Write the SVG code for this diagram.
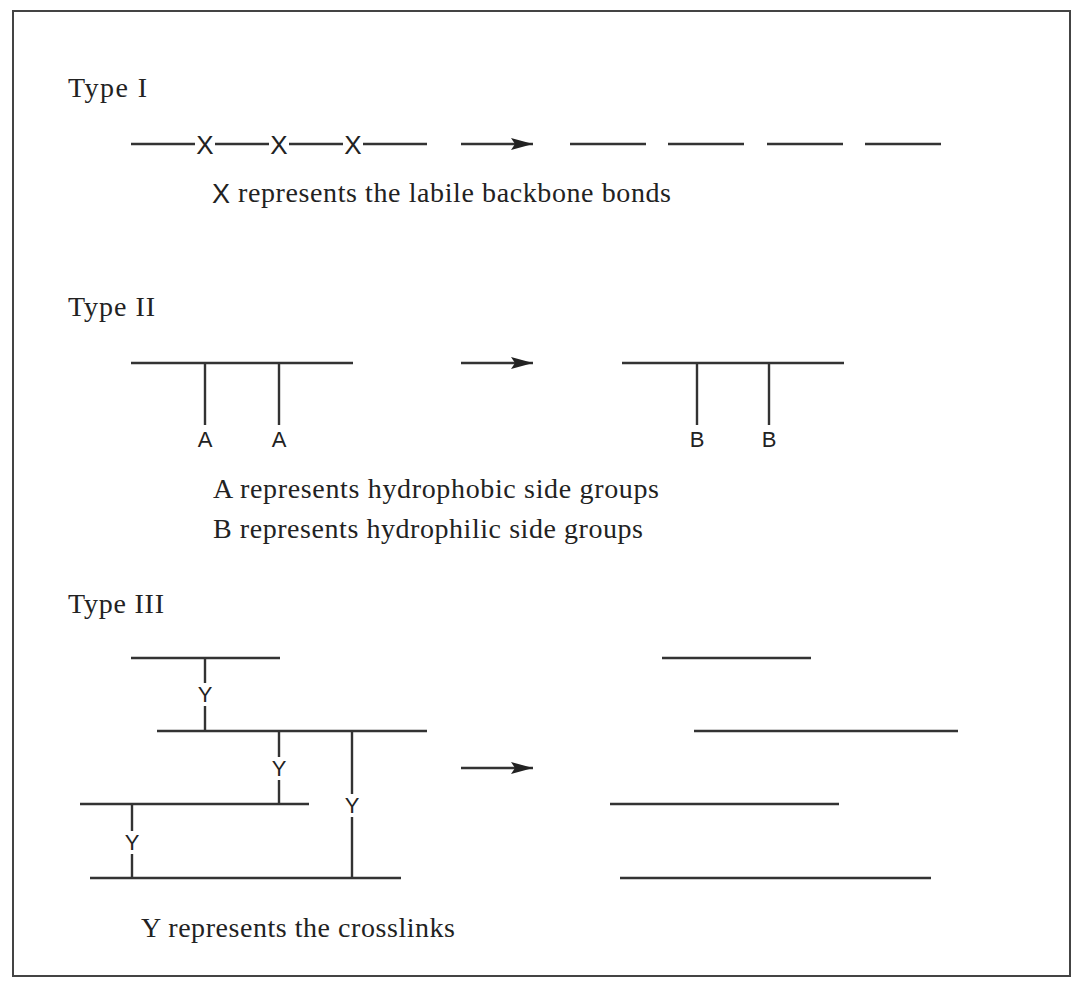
<svg xmlns="http://www.w3.org/2000/svg" width="1080" height="989" viewBox="0 0 1080 989">
<style>
.l{stroke:#333;stroke-width:2.4;fill:none}
.t{font-family:"Liberation Serif",serif;font-size:28px;fill:#222}
.s{font-family:"Liberation Sans",sans-serif;font-size:22px;fill:#222;text-anchor:middle}
.x{font-family:"Liberation Sans",sans-serif;font-size:26px;fill:#222;text-anchor:middle}
.s2{font-family:"Liberation Sans",sans-serif;font-size:27px;fill:#222}
</style>
<defs><marker id="ah" markerWidth="22" markerHeight="12" refX="22" refY="6" orient="auto" markerUnits="userSpaceOnUse"><path d="M0,0L22,6L0,12L4,6Z" fill="#222"/></marker></defs>
<rect x="13" y="11" width="1057" height="965" fill="#fff" stroke="#444" stroke-width="2"/>
<g id="typeI">
<text class="t" x="68" y="97" textLength="79">Type I</text>
<path class="l" d="M131,144H195M215,144H269M289,144H343M363,144H427"/>
<text class="x" x="205" y="154">X</text><text class="x" x="279" y="154">X</text><text class="x" x="353" y="154">X</text>
<path class="l" d="M570,144H646M668,144H744M767,144H843M865,144H941"/>
<text class="s2" x="212" y="203">X</text>
<text class="t" x="238" y="202" textLength="433">represents the labile backbone bonds</text>
</g>
<g id="typeII">
<text class="t" x="68" y="316" textLength="87">Type II</text>
<path class="l" d="M131,363H353M205,363V425M279,363V425M622,363H844M697,363V425M769,363V425"/>
<text class="s" x="205" y="447">A</text><text class="s" x="279" y="447">A</text>
<text class="s" x="697" y="447">B</text><text class="s" x="769" y="447">B</text>
<text class="t" x="213" y="498" textLength="446">A represents hydrophobic side groups</text>
<text class="t" x="213" y="538" textLength="430">B represents hydrophilic side groups</text>
</g>
<g id="typeIII">
<text class="t" x="68" y="613" textLength="96">Type III</text>
<path class="l" d="M131,658H280M157,731H427M80,804H309M90,878H401"/>
<path class="l" d="M205,658V683M205,706V731M279,731V757M279,780V804M352,731V794M352,817V878M132,804V831M132,854V878"/>
<text class="s" x="205" y="702">Y</text><text class="s" x="279" y="776">Y</text><text class="s" x="352" y="813">Y</text><text class="s" x="132" y="850">Y</text>
<path class="l" d="M662,658H811M694,731H958M610,804H839M620,878H931"/>
<text class="t" x="141" y="937" textLength="314">Y represents the crosslinks</text>
</g>
<g id="connectors">
<line class="l" x1="461" y1="144" x2="533" y2="144" marker-end="url(#ah)"/>
<line class="l" x1="461" y1="363" x2="533" y2="363" marker-end="url(#ah)"/>
<line class="l" x1="461" y1="768" x2="533" y2="768" marker-end="url(#ah)"/>
</g>
</svg>
